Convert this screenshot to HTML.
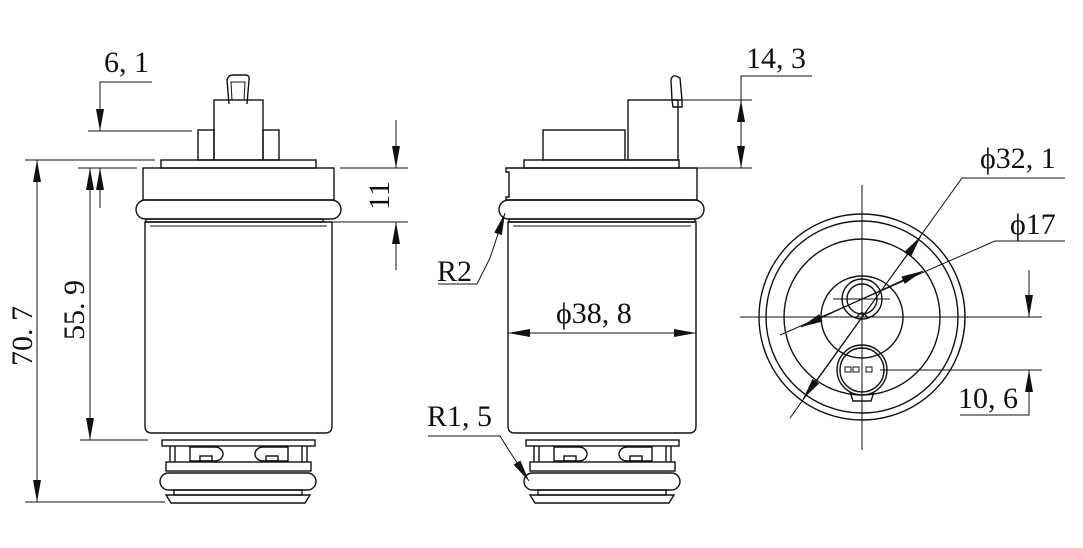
<!DOCTYPE html>
<html><head><meta charset="utf-8"><style>
html,body{margin:0;padding:0;background:#fff}
svg{display:block}
text{font-family:"Liberation Serif","Noto Serif CJK SC",serif;fill:#111}
</style></head><body>
<svg width="1083" height="548" viewBox="0 0 1083 548" xmlns="http://www.w3.org/2000/svg">
<defs>
<g id="bot" fill="none" stroke="#111" stroke-width="1.4">
<rect x="162" y="440" width="153" height="6"/>
<line x1="170" y1="446" x2="170" y2="462"/><line x1="307" y1="446" x2="307" y2="462"/>
<line x1="175" y1="446" x2="175" y2="462"/><line x1="302" y1="446" x2="302" y2="462"/>
<path d="M190 447 H215 A8 7 0 0 1 215 461 H190 Z"/>
<path d="M288 447 H263 A8 7 0 0 0 263 461 H288 Z"/>
<rect x="200" y="456" width="12" height="5"/><rect x="266" y="456" width="12" height="5"/>
<rect x="166" y="462" width="145" height="9"/>
<rect x="160" y="473" width="156" height="17" rx="8.5"/>
<rect x="174" y="490" width="128" height="5"/>
<path d="M166 495 H310 L305 503 H171 Z"/>
</g>
<marker id="a" viewBox="0 0 22 8" refX="22" refY="4" markerWidth="22" markerHeight="8" markerUnits="userSpaceOnUse" orient="auto"><path d="M0 0 L22 4 L0 8 Z" fill="#111"/></marker>
</defs>

<!-- LEFT VIEW -->
<g fill="none" stroke="#111" stroke-width="1.4">
<path d="M229 104 L227 80 Q228 75 233 75 H245 Q250 75 249 80 L247 104" />
<path d="M232 100 L231 82 H245 L244 100 Z" stroke-width="1"/>
<rect x="214" y="100" width="49" height="60"/>
<rect x="198" y="130" width="16" height="30"/><rect x="263" y="130" width="16" height="30"/>
<rect x="161" y="160" width="155" height="8"/>
<rect x="143" y="168" width="191" height="32"/>
<rect x="136" y="200" width="205" height="19" rx="9.5"/>
<rect x="146" y="219" width="177" height="3"/>
<path d="M145 222 H332 V426 Q332 433 325 433 H152 Q145 433 145 426 Z"/>
<line x1="150" y1="226" x2="327" y2="226" stroke-width="1"/>
</g>
<use href="#bot"/>
<g stroke="#111" stroke-width="1" fill="none">
<line x1="25" y1="160" x2="155" y2="160"/><line x1="78" y1="168" x2="137" y2="168"/>
<line x1="80" y1="440" x2="148" y2="440"/><line x1="25" y1="502" x2="165" y2="502"/>
<line x1="88" y1="131" x2="192" y2="131"/>
<polyline points="152,82 100,82 100,110"/><line x1="100" y1="110" x2="100" y2="131" marker-end="url(#a)"/>
<line x1="100" y1="208" x2="100" y2="168" marker-end="url(#a)"/>
<line x1="37" y1="330" x2="37" y2="160" marker-end="url(#a)"/><line x1="37" y1="330" x2="37" y2="502" marker-end="url(#a)"/>
<line x1="90" y1="300" x2="90" y2="168" marker-end="url(#a)"/><line x1="90" y1="300" x2="90" y2="440" marker-end="url(#a)"/>
<line x1="340" y1="168" x2="408" y2="168"/><line x1="330" y1="222" x2="408" y2="222"/>
<line x1="396" y1="120" x2="396" y2="168" marker-end="url(#a)"/><line x1="396" y1="270" x2="396" y2="222" marker-end="url(#a)"/>
</g>
<text x="104" y="72" font-size="30">6, 1</text>
<text transform="translate(32,366) rotate(-90)" font-size="30">70. 7</text>
<text transform="translate(84,340) rotate(-90)" font-size="30">55. 9</text>
<text transform="translate(389,210) rotate(-90)" font-size="30">11</text>

<!-- MIDDLE VIEW -->
<g fill="none" stroke="#111" stroke-width="1.4">
<path d="M672 100 L671 80 Q672 75 676 76 L680 78 L682 100 Z M672 100 H682 V107 H673 Z"/>
<rect x="628" y="100" width="50" height="60"/>
<rect x="543" y="130" width="82" height="30"/>
<rect x="524" y="160" width="155" height="8"/>
<path d="M506 168 H697 V200 H506 V197 H509 V172 H506 Z"/>
<rect x="499" y="200" width="205" height="19" rx="9.5"/>
<rect x="509" y="219" width="186" height="3"/>
<path d="M508 222 H696 V426 Q696 433 689 433 H515 Q508 433 508 426 Z"/>
<line x1="513" y1="226" x2="691" y2="226" stroke-width="1"/>
</g>
<use href="#bot" transform="translate(364,0)"/>
<g stroke="#111" stroke-width="1" fill="none">
<line x1="602" y1="333" x2="508" y2="333" marker-end="url(#a)"/><line x1="602" y1="333" x2="696" y2="333" marker-end="url(#a)"/>
<polyline points="438,284 477,284 490,258"/><line x1="490" y1="258" x2="505" y2="213" marker-end="url(#a)"/>
<polyline points="428,436 500,436 510,452"/><line x1="510" y1="452" x2="529" y2="481" marker-end="url(#a)"/>
<polyline points="812,76 741,76 741,100"/>
<line x1="678" y1="100" x2="752" y2="100"/><line x1="697" y1="168" x2="752" y2="168"/>
<line x1="741" y1="134" x2="741" y2="100" marker-end="url(#a)"/><line x1="741" y1="134" x2="741" y2="168" marker-end="url(#a)"/>
</g>
<text x="746" y="68" font-size="30">14, 3</text>
<text x="437" y="281" font-size="30">R2</text>
<text x="427" y="426" font-size="30">R1, 5</text>
<text x="556" y="323" font-size="30">ϕ38, 8</text>

<!-- RIGHT VIEW -->
<g fill="none" stroke="#111" stroke-width="1.4">
<circle cx="862" cy="317" r="103"/><circle cx="862" cy="317" r="96"/>
<circle cx="862" cy="317" r="78"/><circle cx="862" cy="317" r="41"/>
<circle cx="862" cy="299" r="20"/><circle cx="862" cy="299" r="15"/>
<circle cx="862" cy="370" r="25"/><circle cx="862" cy="370" r="22"/>
<path d="M850 392 L853 401 H871 L874 392"/>
<rect x="845" y="367" width="6" height="5" stroke-width="1"/><rect x="853" y="367" width="6" height="5" stroke-width="1"/><rect x="866" y="367" width="6" height="5" stroke-width="1"/>
<path d="M857 317 Q862 309 867 317"/>
</g>
<g stroke="#111" stroke-width="1" fill="none">
<line x1="862" y1="185" x2="862" y2="450"/>
<line x1="740" y1="317" x2="1042" y2="317"/>
<line x1="833" y1="299" x2="890" y2="299"/>
<line x1="880" y1="370" x2="1042" y2="370"/>
<polyline points="1065,178 962,178 790,418"/>
<line x1="862" y1="317" x2="921" y2="236" marker-end="url(#a)"/>
<line x1="862" y1="317" x2="803" y2="399" marker-end="url(#a)"/>
<polyline points="1065,241 995,241 780,335"/>
<line x1="862" y1="299" x2="923" y2="271" marker-end="url(#a)"/>
<line x1="862" y1="299" x2="801" y2="327" marker-end="url(#a)"/>
<line x1="1029" y1="270" x2="1029" y2="317" marker-end="url(#a)"/>
<polyline points="960,415 1029,415 1029,395"/><line x1="1029" y1="395" x2="1029" y2="370" marker-end="url(#a)"/>
</g>
<text x="980" y="168" font-size="30">ϕ32, 1</text>
<text x="1010" y="234" font-size="30">ϕ17</text>
<text x="958" y="408" font-size="30">10, 6</text>
</svg>
</body></html>
